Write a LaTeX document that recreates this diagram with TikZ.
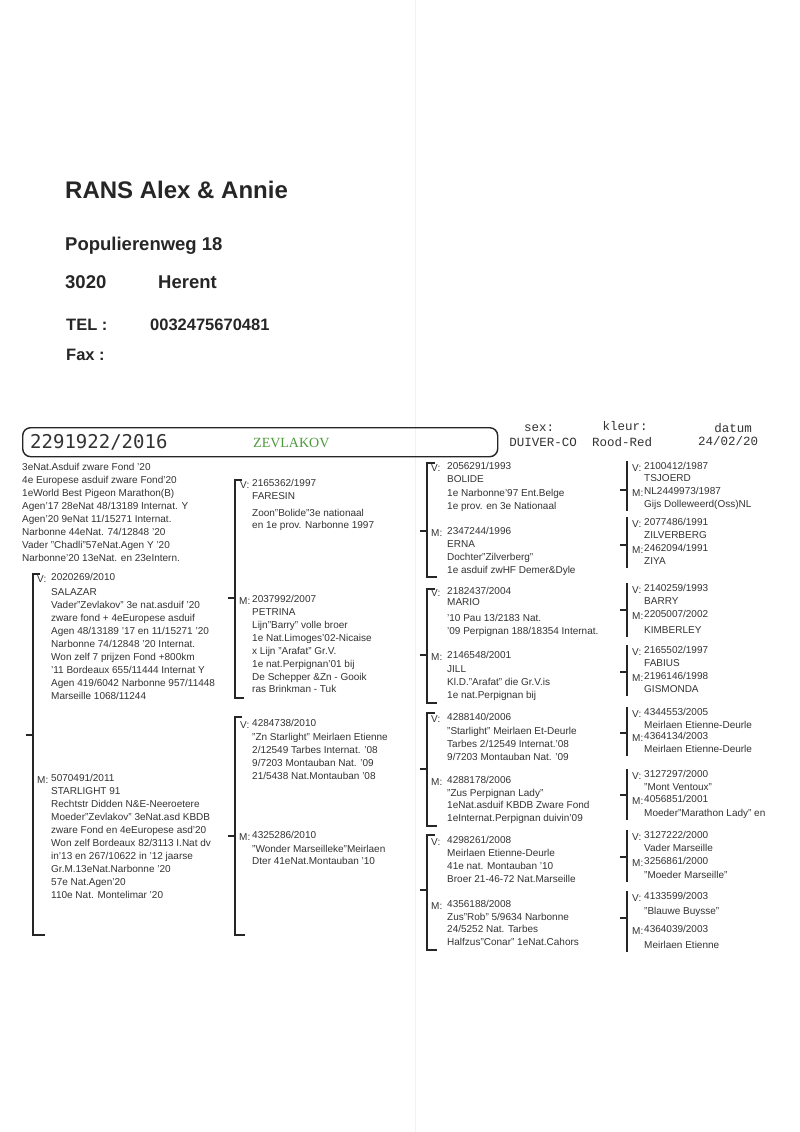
\documentclass[tikz,border=0pt]{standalone}
\usepackage{fontspec}
\setmainfont{Liberation Sans}
\newfontfamily\ringfont{DejaVu Sans Mono}
\newfontfamily\courfont{Liberation Mono}
\newfontfamily\serffont{Liberation Serif}
\usepackage{tikz}
\usetikzlibrary{positioning}
\usepackage{xcolor}
\definecolor{ink}{HTML}{333333}
\definecolor{zgreen}{HTML}{4C9A3C}
\newcommand\txt{\fontsize{10}{13}\selectfont}
% bracket: x, top, mid, bottom, top stub, bottom stub
\newcommand\brak[6]{
  \draw[brak] (#1+#5, #2)--(#1, #2)--(#1, #4)--(#1+#6, #4);
  \draw[brak] (#1-7, #3)--(#1, #3);
}

\begin{document}
\begin{tikzpicture}[x=1pt, y=-1pt,
    blk/.style={anchor=north west, inner sep=0pt, align=left, font=\txt, text=ink, yshift=9.1pt, execute at begin node=\strut},
    lab/.style={anchor=base west, inner sep=0pt, font=\txt, text=ink},
    head/.style={anchor=base west, inner sep=0pt, text=black!85, font=\bfseries},
    mono/.style={anchor=base, inner sep=0pt, text=ink, font=\courfont\fontsize{12.5}{14}\selectfont},
    brak/.style={line width=1.8pt, black!85}]
\useasboundingbox[fill=white] (0,0) rectangle (800,1132);
\draw[gray!10, line width=1pt] (415,0)--(415,1132);

% address
\node[head, font=\bfseries\fontsize{24}{28}\selectfont] (owner) at (65,198) {RANS Alex \& Annie};
\node[head, font=\bfseries\fontsize{18.5}{22}\selectfont] (street) at (65,250) {Populierenweg 18};
\node[head, font=\bfseries\fontsize{18.5}{22}\selectfont] (zip) at (65,288) {3020};
\node[head, font=\bfseries\fontsize{18.5}{22}\selectfont] (town) at (158,288) {Herent};
\node[head, font=\bfseries\fontsize{16.5}{20}\selectfont] (tel) at (66,330) {TEL :};
\node[head, font=\bfseries\fontsize{16.5}{20}\selectfont] (telnr) at (150,330) {0032475670481};
\node[head, font=\bfseries\fontsize{16.5}{20}\selectfont] (fax) at (66,360) {Fax :};

% title bar
\node[draw, black!85, rounded corners=8pt, line width=1.4pt, minimum width=475pt, minimum height=29pt, anchor=north west, inner sep=0pt] (bar) at (22,427) {};
\node[anchor=base west, inner sep=0pt, text=ink, font=\ringfont\fontsize{19}{22}\selectfont] (ring) at (30,448) {2291922/2016};
\node[anchor=base west, inner sep=0pt, text=zgreen, font=\serffont\fontsize{14}{16}\selectfont] (name) at (253,447) {ZEVLAKOV};
\node[mono] (sexl) at (539,431) {sex:};
\node[mono] (sex) at (543,446) {DUIVER-CO};
\node[mono] (kleurl) at (625,430) {kleur:};
\node[mono] (kleur) at (622,446) {Rood-Red};
\node[mono] (datuml) at (733,432) {datum};
\node[mono] (datum) at (728,445) {24/02/20};

% pigeon
\node[blk] (notes) at (22,472) {3eNat.Asduif zware Fond '20\\4e Europese asduif zware Fond'20\\1eWorld Best Pigeon Marathon(B)\\Agen'17 28eNat 48/13189 Internat. Y\\Agen'20 9eNat 11/15271 Internat.\\Narbonne 44eNat. 74/12848 '20\\Vader "Chadli"57eNat.Agen Y '20\\Narbonne'20 13eNat. en 23eIntern.};

% parents
\brak{33}{574}{735}{935}{7}{12}
\node[lab] (vl) at (37,582) {V:};
\node[blk] (v) at (51,582) {2020269/2010\\[2pt]SALAZAR\\Vader"Zevlakov" 3e nat.asduif '20\\zware fond + 4eEuropese asduif\\Agen 48/13189 '17 en 11/15271 '20\\Narbonne 74/12848 '20 Internat.\\Won zelf 7 prijzen Fond +800km\\'11 Bordeaux 655/11444 Internat Y\\Agen 419/6042 Narbonne 957/11448\\Marseille 1068/11244};
\node[lab] (ml) at (37,783) {M:};
\node[blk] (m) at (51,783) {5070491/2011\\STARLIGHT 91\\Rechtstr Didden N\&E-Neeroetere\\Moeder"Zevlakov" 3eNat.asd KBDB\\zware Fond en 4eEuropese asd'20\\Won zelf Bordeaux 82/3113 I.Nat dv\\in'13 en 267/10622 in '12 jaarse\\Gr.M.13eNat.Narbonne '20\\57e Nat.Agen'20\\110e Nat. Montelimar '20};

% grandparents
\brak{235}{480}{598}{698}{7}{9}
\brak{235}{717}{836}{935}{7}{10}
\node[lab] (vvl) at (240,488) {V:};
\node[blk] (vv) at (252,488) {2165362/1997\\FARESIN\\[4pt]Zoon"Bolide"3e nationaal\\[-1pt]en 1e prov. Narbonne 1997};
\node[lab] (vml) at (239,604) {M:};
\node[blk] (vm) at (252,604) {2037992/2007\\PETRINA\\Lijn"Barry" volle broer\\1e Nat.Limoges'02-Nicaise\\x Lijn "Arafat" Gr.V.\\1e nat.Perpignan'01 bij\\De Schepper \&Zn - Gooik\\[-1pt]ras Brinkman - Tuk};
\node[lab] (mvl) at (240,728) {V:};
\node[blk] (mv) at (252,728) {4284738/2010\\[1pt]"Zn Starlight" Meirlaen Etienne\\2/12549 Tarbes Internat. '08\\9/7203 Montauban Nat. '09\\21/5438 Nat.Montauban '08};
\node[lab] (mml) at (239,840) {M:};
\node[blk] (mm) at (252,840) {4325286/2010\\[1pt]"Wonder Marseilleke"Meirlaen\\[-1pt]Dter 41eNat.Montauban '10};

% great-grandparents
\brak{427}{463}{531}{577}{8}{10}
\brak{427}{589}{655}{703}{8}{10}
\brak{427}{713}{769}{826}{8}{10}
\brak{427}{835}{890}{950}{8}{10}
\node[lab] (vvvl) at (431,471) {V:};
\node[blk] (vvv) at (447,471) {2056291/1993\\BOLIDE\\[1pt]1e Narbonne'97 Ent.Belge\\1e prov. en 3e Nationaal};
\node[lab] (vvml) at (431,536) {M:};
\node[blk] (vvm) at (447,536) {2347244/1996\\ERNA\\Dochter"Zilverberg"\\1e asduif zwHF Demer\&Dyle};
\node[lab] (vmvl) at (431,596) {V:};
\node[blk] (vmv) at (447,596) {2182437/2004\\[-2pt]MARIO\\[3pt]'10 Pau 13/2183 Nat.\\'09 Perpignan 188/18354 Internat.};
\node[lab] (vmml) at (431,660) {M:};
\node[blk] (vmm) at (447,660) {2146548/2001\\[1pt]JILL\\Kl.D."Arafat" die Gr.V.is\\1e nat.Perpignan bij};
\node[lab] (mvvl) at (431,722) {V:};
\node[blk] (mvv) at (447,722) {4288140/2006\\[1pt]"Starlight" Meirlaen Et-Deurle\\Tarbes 2/12549 Internat.'08\\9/7203 Montauban Nat. '09};
\node[lab] (mvml) at (431,785) {M:};
\node[blk] (mvm) at (447,785) {4288178/2006\\"Zus Perpignan Lady"\\[-1pt]1eNat.asduif KBDB Zware Fond\\1eInternat.Perpignan duivin'09};
\node[lab] (mmvl) at (431,845) {V:};
\node[blk] (mmv) at (447,845) {4298261/2008\\Meirlaen Etienne-Deurle\\41e nat. Montauban '10\\Broer 21-46-72 Nat.Marseille};
\node[lab] (mmml) at (431,909) {M:};
\node[blk] (mmm) at (447,909) {4356188/2008\\Zus"Rob" 5/9634 Narbonne\\[-1pt]24/5252 Nat. Tarbes\\Halfzus"Conar" 1eNat.Cahors};

% great-great-grandparents
\brak{627}{461}{490}{511}{0}{0}
\brak{627}{517}{545}{568}{0}{0}
\brak{627}{583}{610}{637}{0}{0}
\brak{627}{645}{672}{696}{0}{0}
\brak{627}{707}{733}{756}{0}{0}
\brak{627}{769}{795}{820}{0}{0}
\brak{627}{830}{857}{882}{0}{0}
\brak{627}{891}{918}{952}{0}{0}
\node[lab] (vvvvl) at (632,471) {V:};
\node[blk] (vvvv) at (644,471) {2100412/1987\\[-1pt]TSJOERD};
\node[lab] (vvvml) at (632,496) {M:};
\node[blk] (vvvm) at (644,496) {NL2449973/1987\\Gijs Dolleweerd(Oss)NL};
\node[lab] (vvmvl) at (632,527) {V:};
\node[blk] (vvmv) at (644,527) {2077486/1991\\ZILVERBERG};
\node[lab] (vvmml) at (632,553) {M:};
\node[blk] (vvmm) at (644,553) {2462094/1991\\ZIYA};
\node[lab] (vmvvl) at (632,593) {V:};
\node[blk] (vmvv) at (644,593) {2140259/1993\\BARRY};
\node[lab] (vmvml) at (632,619) {M:};
\node[blk] (vmvm) at (644,619) {2205007/2002\\[3pt]KIMBERLEY};
\node[lab] (vmmvl) at (632,655) {V:};
\node[blk] (vmmv) at (644,655) {2165502/1997\\FABIUS};
\node[lab] (vmmml) at (632,681) {M:};
\node[blk] (vmmm) at (644,681) {2196146/1998\\GISMONDA};
\node[lab] (mvvvl) at (632,717) {V:};
\node[blk] (mvvv) at (644,717) {4344553/2005\\Meirlaen Etienne-Deurle};
\node[lab] (mvvml) at (632,741) {M:};
\node[blk] (mvvm) at (644,741) {4364134/2003\\Meirlaen Etienne-Deurle};
\node[lab] (mvmvl) at (632,779) {V:};
\node[blk] (mvmv) at (644,779) {3127297/2000\\"Mont Ventoux"};
\node[lab] (mvmml) at (632,804) {M:};
\node[blk] (mvmm) at (644,804) {4056851/2001\\[1pt]Moeder"Marathon Lady" en};
\node[lab] (mmvvl) at (632,840) {V:};
\node[blk] (mmvv) at (644,840) {3127222/2000\\Vader Marseille};
\node[lab] (mmvml) at (632,866) {M:};
\node[blk] (mmvm) at (644,866) {3256861/2000\\[1pt]"Moeder Marseille"};
\node[lab] (mmmvl) at (632,901) {V:};
\node[blk] (mmmv) at (644,901) {4133599/2003\\[2pt]"Blauwe Buysse"};
\node[lab] (mmmml) at (632,934) {M:};
\node[blk] (mmmm) at (644,934) {4364039/2003\\[3pt]Meirlaen Etienne};
\end{tikzpicture}
\end{document}
